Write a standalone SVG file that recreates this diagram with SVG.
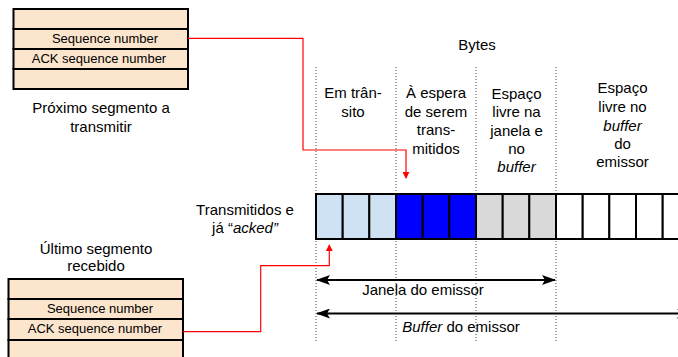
<svg xmlns="http://www.w3.org/2000/svg" width="678" height="357" viewBox="0 0 678 357">
<defs>
<style>
text{font-family:"Liberation Sans",Arial,sans-serif;fill:#000}
.t15{font-size:15px}
.t13{font-size:13px}
.mid{text-anchor:middle}
.seg{fill:#fce5cd;stroke:#000;stroke-width:2}
.cell{stroke:#000;stroke-width:2}
.lb{fill:#cfe2f3}
.bl{fill:#0000ff}
.gr{fill:#d9d9d9}
.wh{fill:#ffffff}
.dot{stroke:#444;stroke-width:1;stroke-dasharray:1 2;fill:none}
.red{stroke:#ff0000;stroke-width:1.2;fill:none}
.blk{stroke:#000;stroke-width:2;fill:none}
</style>
<marker id="ra" viewBox="0 0 8 8" refX="7" refY="4" markerWidth="7" markerHeight="7" markerUnits="userSpaceOnUse" orient="auto">
<path d="M0,0 L8,4 L0,8 Z" fill="#ff0000"/>
</marker>
<marker id="ba" viewBox="0 0 14 10" refX="13" refY="5" markerWidth="14" markerHeight="10" markerUnits="userSpaceOnUse" orient="auto-start-reverse">
<path d="M0,0 L14,5 L0,10 L3,5 Z" fill="#000"/>
</marker>
</defs>

<g id="dotted-guides">
<line class="dot" x1="316" y1="67" x2="316" y2="342"/>
<line class="dot" x1="396" y1="67" x2="396" y2="342"/>
<line class="dot" x1="476" y1="67" x2="476" y2="342"/>
<line class="dot" x1="556" y1="67" x2="556" y2="342"/>
</g>

<g id="next-segment">
<rect class="seg" x="13.5" y="9" width="174.5" height="20"/>
<rect class="seg" x="13.5" y="29" width="174.5" height="20"/>
<rect class="seg" x="13.5" y="49" width="174.5" height="20"/>
<rect class="seg" x="13.5" y="69" width="174.5" height="20"/>
<text class="t13 mid" x="105" y="43">Sequence number</text>
<text class="t13 mid" x="99" y="63">ACK sequence number</text>
<text class="t15 mid" x="101" y="113">Próximo segmento a</text>
<text class="t15 mid" x="101" y="132">transmitir</text>
</g>

<g id="last-segment">
<text class="t15 mid" x="96" y="254">Último segmento</text>
<text class="t15 mid" x="96" y="271">recebido</text>
<rect class="seg" x="8.5" y="279" width="174.5" height="20"/>
<rect class="seg" x="8.5" y="299" width="174.5" height="20"/>
<rect class="seg" x="8.5" y="319" width="174.5" height="21"/>
<rect class="seg" x="8.5" y="340" width="174.5" height="25"/>
<text class="t13 mid" x="100" y="313">Sequence number</text>
<text class="t13 mid" x="95" y="333">ACK sequence number</text>
</g>

<g id="bytes-label">
<text class="t15 mid" x="477" y="50">Bytes</text>
</g>

<g id="col-em-transito">
<text class="t15 mid" x="353" y="98">Em trân-</text>
<text class="t15 mid" x="353" y="117">sito</text>
</g>

<g id="col-espera">
<text class="t15 mid" x="436" y="98">À espera</text>
<text class="t15 mid" x="436" y="116.5">de serem</text>
<text class="t15 mid" x="436" y="135">trans-</text>
<text class="t15 mid" x="436" y="153.5">mitidos</text>
</g>

<g id="col-livre-janela">
<text class="t15 mid" x="516.5" y="99">Espaço</text>
<text class="t15 mid" x="516.5" y="117.3">livre na</text>
<text class="t15 mid" x="516.5" y="135.6">janela e</text>
<text class="t15 mid" x="516.5" y="153.5">no</text>
<text class="t15 mid" x="516.5" y="171.7" font-style="italic">buffer</text>
</g>

<g id="col-livre-buffer">
<text class="t15 mid" x="622.5" y="93.3">Espaço</text>
<text class="t15 mid" x="622.5" y="112.3">livre no</text>
<text class="t15 mid" x="622.5" y="130.7" font-style="italic">buffer</text>
<text class="t15 mid" x="622.5" y="149">do</text>
<text class="t15 mid" x="622.5" y="167.3">emissor</text>
</g>

<g id="acked-label">
<text class="t15 mid" x="245" y="215">Transmitidos e</text>
<text class="t15 mid" x="245" y="233">já “<tspan font-style="italic">acked”</tspan></text>
</g>

<g id="byte-cells">
<rect class="cell lb" x="316" y="194" width="26.7" height="45"/>
<rect class="cell lb" x="342.7" y="194" width="26.7" height="45"/>
<rect class="cell lb" x="369.3" y="194" width="26.7" height="45"/>
<rect class="cell bl" x="396" y="194" width="26.7" height="45"/>
<rect class="cell bl" x="422.7" y="194" width="26.7" height="45"/>
<rect class="cell bl" x="449.3" y="194" width="26.7" height="45"/>
<rect class="cell gr" x="476" y="194" width="26.7" height="45"/>
<rect class="cell gr" x="502.7" y="194" width="26.7" height="45"/>
<rect class="cell gr" x="529.3" y="194" width="26.7" height="45"/>
<rect class="cell wh" x="556" y="194" width="26.7" height="45"/>
<rect class="cell wh" x="582.7" y="194" width="26.7" height="45"/>
<rect class="cell wh" x="609.3" y="194" width="26.7" height="45"/>
<rect class="cell wh" x="636" y="194" width="26.7" height="45"/>
<rect class="cell wh" x="662.7" y="194" width="26.7" height="45"/>
</g>

<g id="connectors">
<polyline class="red" points="188,38.3 303,38.3 303,150 406,150 406,178" marker-end="url(#ra)"/>
<polyline class="red" points="183,331.7 260.7,331.7 260.7,265.7 329.3,265.7 329.3,245" marker-end="url(#ra)"/>
<line class="blk" x1="317" y1="280" x2="555" y2="280" marker-start="url(#ba)" marker-end="url(#ba)"/>
<line class="blk" x1="317" y1="313.5" x2="690" y2="313.5" marker-start="url(#ba)" marker-end="url(#ba)"/>
</g>

<g id="window-labels">
<text class="t15 mid" x="423" y="295">Janela do emissor</text>
<text class="t15 mid" x="461" y="332"><tspan font-style="italic">Buffer</tspan> do emissor</text>
</g>
</svg>
